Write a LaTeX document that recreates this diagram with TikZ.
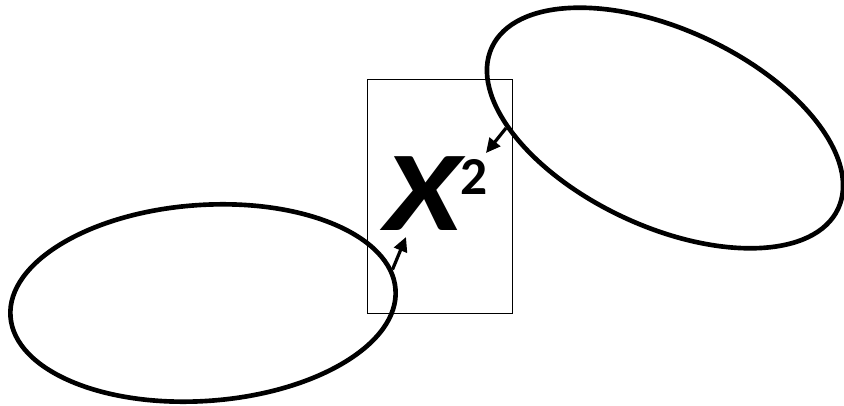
\documentclass[tikz,border=0pt]{standalone}
\usepackage{fontspec}
\setmainfont{Carlito}
\usepackage{xcolor}
\definecolor{linecolor}{HTML}{000000}
\usepackage{tikz}
\usetikzlibrary{positioning,arrows.meta,shapes.geometric}
\tikzset{
    setshape/.style={
        ellipse,
        draw=linecolor,
        line width=3.3pt,
        minimum width=9.65cm,
        minimum height=4.9cm,
        inner sep=0pt,
    },
    framebox/.style={
        rectangle,
        draw=linecolor,
        line width=0.7pt,
        minimum width=3.625cm,
        minimum height=5.85cm,
        inner sep=0pt,
    },
    pointer/.style={
        -{Triangle[length=3.6mm,width=3.4mm]},
        line width=2.3pt,
        linecolor,
    },
    symbol/.style={
        text=linecolor,
        inner sep=0pt,
        font=\fontsize{81}{81}\selectfont\bfseries\itshape,
    },
}

\begin{document}
\begin{tikzpicture}
    \useasboundingbox (0,0) rectangle (21.1,10.125);

    \node[framebox] (frame) at (10.9875,5.225) {};
    \node[symbol, anchor=base west] (chi) at (9.6,4.375)
        {\scalebox{1.22}[1]{X}\raisebox{0.88cm}{\fontsize{38}{38}\selectfont\upshape 2}};

    \node[setshape, rotate=4] (leftset) at (5.075,2.55) {};
    \node[setshape, minimum width=9.55cm, minimum height=4.92cm, rotate=-25] (rightset) at (16.625,6.925) {};

    \coordinate (lefttip) at (10.15,4.2);
    \coordinate (righttip) at (12.15,6.3);

    \draw[pointer] (leftset.6) -- (lefttip);
    \draw[pointer] (rightset.205.7) -- (righttip);
\end{tikzpicture}
\end{document}
